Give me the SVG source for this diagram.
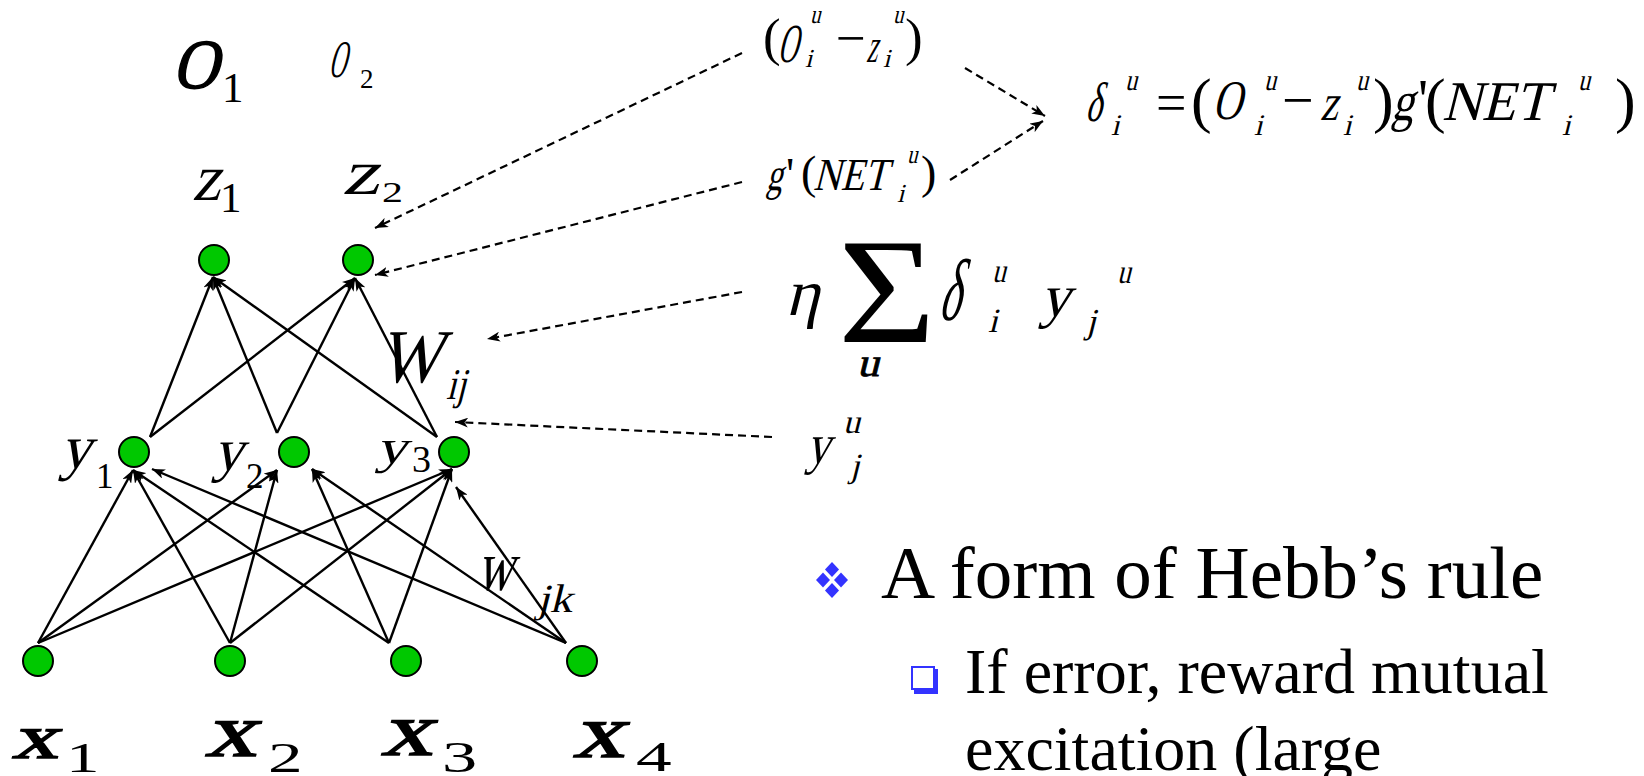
<svg xmlns="http://www.w3.org/2000/svg" width="1644" height="776" viewBox="0 0 1644 776">
<style>
.m{font-family:"Liberation Serif","Times New Roman",serif;fill:#000}
.b{stroke:#000;stroke-width:1.6}
.node{fill:#00C800;stroke:#000;stroke-width:2}
.edge{stroke:#000;stroke-width:2.4;fill:none}
.dash{stroke:#000;stroke-width:2.2;fill:none;stroke-dasharray:8 5}
.blue{fill:#3333FF}
</style>
<defs>
<marker id="ah" viewBox="0 0 13 10" refX="13" refY="5" markerWidth="13" markerHeight="10" orient="auto" markerUnits="userSpaceOnUse">
<path d="M0,0 L13,5 L0,10 L3.5,5 z" fill="#000"/>
</marker>
</defs>
<rect width="1644" height="776" fill="#fff"/>

<g id="connectors">
<g id="edges-hidden-output">
<line class="edge" x1="150" y1="437" x2="213" y2="277" marker-end="url(#ah)"/>
<line class="edge" x1="150" y1="437" x2="355" y2="278" marker-end="url(#ah)"/>
<line class="edge" x1="277" y1="433" x2="213" y2="277" marker-end="url(#ah)"/>
<line class="edge" x1="277" y1="433" x2="355" y2="278" marker-end="url(#ah)"/>
<line class="edge" x1="437" y1="437" x2="213" y2="277" marker-end="url(#ah)"/>
<line class="edge" x1="437" y1="437" x2="355" y2="278" marker-end="url(#ah)"/>
</g>
<g id="edges-input-hidden">
<line class="edge" x1="38" y1="643" x2="133" y2="470" marker-end="url(#ah)"/>
<line class="edge" x1="38" y1="643" x2="277" y2="470" marker-end="url(#ah)"/>
<line class="edge" x1="38" y1="643" x2="452" y2="469" marker-end="url(#ah)"/>
<line class="edge" x1="230" y1="643" x2="133" y2="470" marker-end="url(#ah)"/>
<line class="edge" x1="230" y1="643" x2="277" y2="470" marker-end="url(#ah)"/>
<line class="edge" x1="230" y1="643" x2="452" y2="469" marker-end="url(#ah)"/>
<line class="edge" x1="389" y1="643" x2="133" y2="470" marker-end="url(#ah)"/>
<line class="edge" x1="389" y1="643" x2="312" y2="469" marker-end="url(#ah)"/>
<line class="edge" x1="389" y1="643" x2="452" y2="469" marker-end="url(#ah)"/>
<line class="edge" x1="566" y1="643" x2="152" y2="469" marker-end="url(#ah)"/>
<line class="edge" x1="566" y1="643" x2="312" y2="469" marker-end="url(#ah)"/>
<line class="edge" x1="566" y1="643" x2="456" y2="487" marker-end="url(#ah)"/>
</g>
<g id="dashed-links">
<line class="dash" x1="742" y1="53" x2="375" y2="228" marker-end="url(#ah)"/>
<line class="dash" x1="742" y1="182" x2="375" y2="275" marker-end="url(#ah)"/>
<line class="dash" x1="965" y1="68" x2="1045" y2="116" marker-end="url(#ah)"/>
<line class="dash" x1="950" y1="180" x2="1043" y2="121" marker-end="url(#ah)"/>
<line class="dash" x1="742" y1="292" x2="487" y2="339" marker-end="url(#ah)"/>
<line class="dash" x1="772" y1="437" x2="455" y2="422" marker-end="url(#ah)"/>
</g>
</g>

<g id="label-O1">
<text class="m b" transform="matrix(0.9 0 -0.25 1 172 88)" font-size="70">O</text>
<text class="m" x="222" y="102" font-size="43">1</text>
</g>
<g id="label-O2">
<text class="m" transform="matrix(0.45 0 -0.25 1 328 77)" font-size="53">O</text>
<text class="m" x="360" y="88" font-size="27">2</text>
</g>

<g id="node-z1">
<circle class="node" cx="214" cy="260" r="15"/>
<text class="m" transform="matrix(0.95 0 -0.25 1 192 200)" font-size="66">z</text>
<text class="m" x="220" y="212" font-size="43">1</text>
</g>
<g id="node-z2">
<circle class="node" cx="358" cy="260" r="15"/>
<text class="m" transform="matrix(1.3 0 -0.25 1 342 194)" font-size="64">z</text>
<text class="m" transform="matrix(1.4 0 0 1 382 202)" font-size="30">2</text>
</g>

<g id="node-y1">
<circle class="node" cx="134" cy="452" r="15"/>
<text class="m" transform="matrix(1 0 -0.25 1 60 468)" font-size="62">y</text>
<text class="m" x="96" y="488" font-size="35">1</text>
</g>
<g id="node-y2">
<circle class="node" cx="294" cy="452" r="15"/>
<text class="m" transform="matrix(1 0 -0.25 1 213 470)" font-size="60">y</text>
<text class="m" x="246" y="488" font-size="35">2</text>
</g>
<g id="node-y3">
<circle class="node" cx="454" cy="452" r="15"/>
<text class="m" transform="matrix(1.3 0 -0.25 1 376 463)" font-size="48">y</text>
<text class="m" x="412" y="472" font-size="38">3</text>
</g>

<g id="node-x1">
<circle class="node" cx="38" cy="661" r="15"/>
<text class="m b" transform="matrix(1.48 0 -0.25 1 12 758)" font-size="62">x</text>
<text class="m" transform="matrix(1.6 0 0 1 66 772)" font-size="42">1</text>
</g>
<g id="node-x2">
<circle class="node" cx="230" cy="661" r="15"/>
<text class="m b" transform="matrix(1.37 0 -0.25 1 205 756)" font-size="75">x</text>
<text class="m" transform="matrix(1.65 0 0 1 268 772)" font-size="42">2</text>
</g>
<g id="node-x3">
<circle class="node" cx="406" cy="661" r="15"/>
<text class="m b" transform="matrix(1.37 0 -0.25 1 381 755)" font-size="75">x</text>
<text class="m" transform="matrix(1.6 0 0 1 442 772)" font-size="44">3</text>
</g>
<g id="node-x4">
<circle class="node" cx="582" cy="661" r="15"/>
<text class="m b" transform="matrix(1.37 0 -0.25 1 573 757)" font-size="75">x</text>
<text class="m" transform="matrix(1.7 0 0 1 636 771)" font-size="42">4</text>
</g>

<g id="label-Wij">
<text class="m" transform="matrix(0.88 0 -0.25 1 378 382)" font-size="76">W</text>
<text class="m" transform="matrix(0.8 0 -0.25 1 446 399)" font-size="44">ij</text>
</g>
<g id="label-wjk">
<text class="m" transform="matrix(0.7 0 -0.25 1 476 590)" font-size="72">w</text>
<text class="m" transform="matrix(1.13 0 -0.25 1 537 612)" font-size="40">jk</text>
</g>

<g id="formula-error">
<text class="m" x="763" y="55" font-size="53">(</text>
<text class="m" transform="matrix(0.5 0 -0.25 1 777 62)" font-size="55">O</text>
<text class="m" transform="matrix(0.8 0 -0.25 1 810 23)" font-size="26">u</text>
<text class="m" transform="matrix(1 0 -0.25 1 805 67)" font-size="26">i</text>
<text class="m" x="836" y="56" font-size="53">−</text>
<text class="m" transform="matrix(0.5 0 -0.25 1 866 62)" font-size="48">z</text>
<text class="m" transform="matrix(0.8 0 -0.25 1 893 23)" font-size="26">u</text>
<text class="m" transform="matrix(1 0 -0.25 1 883 67)" font-size="26">i</text>
<text class="m" x="905" y="55" font-size="53">)</text>
</g>

<g id="formula-gprime">
<text class="m" transform="matrix(0.7 0 -0.25 1 766 190)" font-size="46">g</text>
<text class="m" x="786" y="190" font-size="46">'</text>
<text class="m" x="801" y="188" font-size="46">(</text>
<text class="m" transform="matrix(0.83 0 -0.25 1 813 190)" font-size="46">NET</text>
<text class="m" transform="matrix(0.8 0 -0.25 1 907 163)" font-size="26">u</text>
<text class="m" transform="matrix(1 0 -0.25 1 897 202)" font-size="26">i</text>
<text class="m" x="921" y="188" font-size="46">)</text>
</g>

<g id="formula-delta">
<text class="m" transform="matrix(0.62 0 -0.25 1 1085 121)" font-size="56">δ</text>
<text class="m" transform="matrix(0.8 0 -0.25 1 1125 90)" font-size="30">u</text>
<text class="m" transform="matrix(1 0 -0.25 1 1111 135)" font-size="30">i</text>
<text class="m" x="1156" y="121" font-size="54">=</text>
<text class="m" x="1191" y="121" font-size="62">(</text>
<text class="m" transform="matrix(0.72 0 -0.25 1 1212 119)" font-size="56">O</text>
<text class="m" transform="matrix(0.8 0 -0.25 1 1264 90)" font-size="30">u</text>
<text class="m" transform="matrix(1 0 -0.25 1 1254 135)" font-size="30">i</text>
<text class="m" x="1282" y="119" font-size="56">−</text>
<text class="m" transform="matrix(0.75 0 -0.25 1 1320 120)" font-size="52">z</text>
<text class="m" transform="matrix(1 0 -0.25 1 1343 135)" font-size="30">i</text>
<text class="m" transform="matrix(0.8 0 -0.25 1 1356 90)" font-size="30">u</text>
<text class="m" x="1373" y="121" font-size="62">)</text>
<text class="m" transform="matrix(0.8 0 -0.25 1 1391 120)" font-size="56">g</text>
<text class="m" x="1418" y="119" font-size="56">'</text>
<text class="m" x="1425" y="121" font-size="62">(</text>
<text class="m" transform="matrix(0.98 0 -0.25 1 1442 120)" font-size="56">NET</text>
<text class="m" transform="matrix(1 0 -0.25 1 1562 135)" font-size="30">i</text>
<text class="m" transform="matrix(0.8 0 -0.25 1 1578 90)" font-size="30">u</text>
<text class="m" x="1615" y="121" font-size="62">)</text>
</g>

<g id="formula-update">
<text class="m" transform="matrix(1 0 -0.25 1 785 315)" font-size="66">η</text>
<text class="m" transform="matrix(1.12 0 0 1 838 342)" font-size="150">Σ</text>
<text class="m" transform="matrix(1.1 0 -0.25 1 857 376)" font-size="40" stroke="#000" stroke-width="0.8">u</text>
<text class="m" transform="matrix(0.52 0 -0.25 1 938 320)" font-size="88">δ</text>
<text class="m" transform="matrix(0.8 0 -0.25 1 992 282)" font-size="34">u</text>
<text class="m" transform="matrix(1 0 -0.25 1 988 332)" font-size="34">i</text>
<text class="m" transform="matrix(1 0 -0.25 1 1040 316)" font-size="60">y</text>
<text class="m" transform="matrix(1 0 -0.25 1 1086 333)" font-size="35">j</text>
<text class="m" transform="matrix(0.8 0 -0.25 1 1117 283)" font-size="34">u</text>
</g>

<g id="formula-yju">
<text class="m" transform="matrix(0.85 0 -0.25 1 806 463)" font-size="56">y</text>
<text class="m" transform="matrix(1 0 -0.25 1 843 433)" font-size="34">u</text>
<text class="m" transform="matrix(1 0 -0.25 1 850 477)" font-size="34">j</text>
</g>

<g id="bullet-hebb">
<polygon class="blue" points="832,562 839,569.5 832,577 825,569.5"/>
<polygon class="blue" points="823,572.5 830,580 823,587.5 816,580"/>
<polygon class="blue" points="841,572.5 848,580 841,587.5 834,580"/>
<polygon class="blue" points="832,583 839,590.5 832,598 825,590.5"/>
<text class="m" x="881" y="598" font-size="75">A form of Hebb’s rule</text>
</g>
<g id="bullet-error">
<rect x="912" y="667" width="22" height="22" fill="#fff" stroke="#3333FF" stroke-width="2"/>
<rect class="blue" x="914" y="689" width="24" height="5"/>
<rect class="blue" x="934" y="669" width="4" height="25"/>
<text class="m" x="965" y="693" font-size="64">If error, reward mutual</text>
<text class="m" x="965" y="770" font-size="64">excitation (large</text>
</g>
</svg>
